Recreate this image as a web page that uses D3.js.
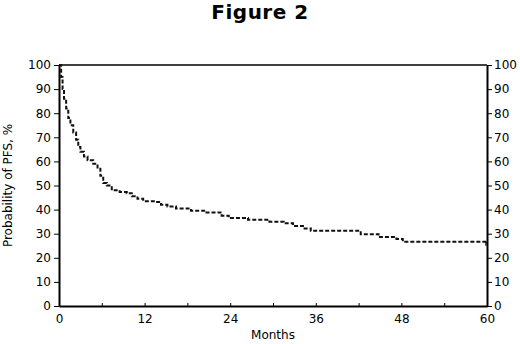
<!DOCTYPE html>
<html>
<head>
<meta charset="utf-8">
<script src="https://cdn.jsdelivr.net/npm/d3@7"></script>
<style>
  body { margin: 0; background: #fff; }
  svg { display: block; }
  .axis text { font-family: "DejaVu Sans", Verdana, sans-serif; font-size: 12px; fill: #000; }
  .axis path, .axis line { stroke: #000; }
</style>
</head>
<body>
<div id="chart"></div>
<script>
// Kaplan-Meier style curve
var months = [0, 0.3, 0.5, 0.7, 1.0, 1.3, 1.6, 2.0, 2.4, 2.7, 3.0, 3.5, 4.0, 4.8, 5.4, 5.8, 6.2, 6.7, 7.4, 8.5,
              9.5, 10.2, 11.0, 11.8, 13.5, 14.3, 15.2, 16.4, 18.5, 20.5, 22.8, 23.8, 26.5, 29.5, 31.5, 32.8,
              34.2, 35.3, 42.3, 44.8, 47.3, 48.2, 60];
var pfs = [100, 95, 90, 86, 82, 78, 75, 72, 69, 66, 64, 62, 60.5, 59, 57, 54, 51, 50, 48, 47.3,
           46.8, 45.5, 44.5, 43.5, 43.2, 42, 41.3, 40.5, 39.5, 38.8, 37.5, 36.5, 35.8, 35, 34.3, 33.2,
           32.2, 31.2, 29.8, 28.6, 27.8, 26.7, 26.7];
var xTickValues = [0, 6, 12, 18, 24, 30, 36, 42, 48, 54, 60];
var xLabelValues = [0, 12, 24, 36, 48, 60];
var yTickValues = [0, 10, 20, 30, 40, 50, 60, 70, 80, 90, 100];

var width = 520, height = 344;
var margin = {top: 65, right: 33, bottom: 38, left: 59};

var svg = d3.select("#chart").append("svg")
    .attr("width", width)
    .attr("height", height);

var xScale = d3.scaleLinear().domain([0, 60]).range([margin.left, width - margin.right]);
var yScale = d3.scaleLinear().domain([0, 100]).range([height - margin.bottom, margin.top]);

// title
svg.append("text")
    .attr("x", 260).attr("y", 19)
    .attr("text-anchor", "middle")
    .style("font-family", "'DejaVu Sans', Verdana, sans-serif")
    .style("font-weight", "bold")
    .style("font-size", "20px")
    .style("letter-spacing", "0.5px")
    .text("Figure 2");

// top frame line
svg.append("line")
    .attr("x1", xScale(0)).attr("x2", xScale(60))
    .attr("y1", yScale(100)).attr("y2", yScale(100))
    .style("stroke", "#000").style("stroke-width", 1.5);

// x axis: ticks every 6 months pointing up, labels every 12
var xAxis = d3.axisBottom(xScale)
    .tickValues(xTickValues)
    .tickSizeInner(-3)
    .tickSizeOuter(0)
    .tickPadding(8)
    .tickFormat(function (d) { return xLabelValues.indexOf(d) >= 0 ? d : ""; });

svg.append("g")
    .attr("class", "axis")
    .attr("transform", "translate(0," + yScale(0) + ")")
    .call(xAxis)
    .call(function (g) { g.select(".domain").style("stroke-width", 2); });

var yLeft = d3.axisLeft(yScale).tickValues(yTickValues).tickSizeInner(5).tickSizeOuter(0).tickPadding(3);
var yRight = d3.axisRight(yScale).tickValues(yTickValues).tickSizeInner(5).tickSizeOuter(0).tickPadding(2);

svg.append("g")
    .attr("class", "axis")
    .attr("transform", "translate(" + xScale(0) + ",0)")
    .call(yLeft)
    .call(function (g) { g.select(".domain").style("stroke-width", 2); });

svg.append("g")
    .attr("class", "axis")
    .attr("transform", "translate(" + xScale(60) + ",0)")
    .call(yRight)
    .call(function (g) { g.select(".domain").style("stroke-width", 2); });

// axis titles
svg.append("text")
    .attr("x", (xScale(0) + xScale(60)) / 2).attr("y", 339)
    .attr("text-anchor", "middle")
    .style("font-family", "'DejaVu Sans', Verdana, sans-serif")
    .style("font-size", "12px")
    .text("Months");

svg.append("text")
    .attr("transform", "translate(12," + (yScale(50)) + ") rotate(-90)")
    .attr("text-anchor", "middle")
    .style("font-family", "'DejaVu Sans', Verdana, sans-serif")
    .style("font-size", "12px")
    .text("Probability of PFS, %");

// survival curve
var data = months.map(function (m, i) { return {m: m, v: pfs[i]}; });

var line = d3.line()
    .x(function (d) { return xScale(d.m); })
    .y(function (d) { return yScale(d.v); })
    .curve(d3.curveStepAfter);

svg.append("path")
    .datum(data)
    .attr("d", line)
    .style("fill", "none")
    .style("stroke", "#111")
    .style("stroke-width", 2)
    .style("stroke-dasharray", "4,2");

// censor mark at the end
svg.append("line")
    .attr("x1", xScale(60) - 1).attr("x2", xScale(60) - 1)
    .attr("y1", yScale(26.7)).attr("y2", yScale(26.7) + 4)
    .style("stroke", "#111").style("stroke-width", 1.5);
</script>
</body>
</html>
